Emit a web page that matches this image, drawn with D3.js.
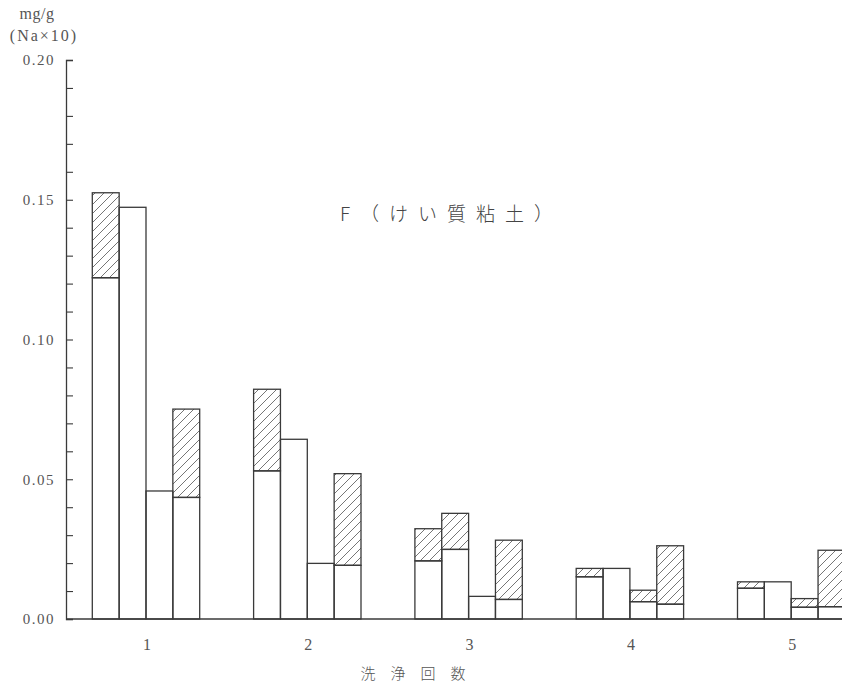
<!DOCTYPE html>
<html>
<head>
<meta charset="utf-8">
<script src="https://cdn.jsdelivr.net/npm/d3@7"></script>
<style>
  html, body { margin: 0; padding: 0; background: #fff; }
  svg { display: block; }
</style>
</head>
<body>
<svg id="chart" width="842" height="689"></svg>
<script>
// Washing rounds (x categories)
const rounds = ["1", "2", "3", "4", "5"];
// Four bars per round
const barKeys = ["a", "b", "c", "d"];

// Lower (plain) segment of each bar, mg/g (Na×10)
const baseA = [0.1221, 0.0530, 0.0208, 0.0151, 0.0110];
const baseB = [0.1473, 0.0643, 0.0249, 0.0181, 0.0133];
const baseC = [0.0458, 0.0199, 0.0081, 0.0062, 0.0042];
const baseD = [0.0435, 0.0192, 0.0070, 0.0053, 0.0044];

// Bar totals (top of the hatched segment)
const totalA = [0.1525, 0.0822, 0.0323, 0.0181, 0.0133];
const totalB = [0.1473, 0.0643, 0.0378, 0.0181, 0.0133];
const totalC = [0.0458, 0.0199, 0.0081, 0.0103, 0.0073];
const totalD = [0.0751, 0.0520, 0.0282, 0.0262, 0.0246];

// Y axis ticks
const yTicks = d3.range(0, 21).map(i => i / 100);
const yLabels = ["0.00", "0.05", "0.10", "0.15", "0.20"];

const title = "F（けい質粘土）";
const xTitle = "洗　浄　回　数";
const unitLines = ["mg/g", "(Na×10)"];

const bases = { a: baseA, b: baseB, c: baseC, d: baseD };
const totals = { a: totalA, b: totalB, c: totalC, d: totalD };

const svg = d3.select("#chart");
const ink = "#3a3a3a";

const defs = svg.append("defs");
const pat = defs.append("pattern")
  .attr("id", "hatch")
  .attr("patternUnits", "userSpaceOnUse")
  .attr("width", 9).attr("height", 9);
pat.append("rect").attr("width", 9).attr("height", 9).attr("fill", "#fff");
pat.append("path")
  .attr("d", "M-1,1 L1,-1 M0,9 L9,0 M8,10 L10,8")
  .attr("stroke", "#666").attr("stroke-width", 0.9);

const x = d3.scalePoint().domain(rounds).range([146, 791.2]);
const xi = d3.scaleBand().domain(barKeys).range([-53.7, 53.7]).padding(0);
const y = d3.scaleLinear().domain([0, 0.2]).range([619, 60]);

const rows = [];
rounds.forEach((r, i) => {
  barKeys.forEach(k => {
    rows.push({ round: r, key: k, base: bases[k][i], total: totals[k][i] });
  });
});

const g = svg.append("g");

// Hatched upper segments
g.selectAll("rect.upper")
  .data(rows.filter(d => d.total > d.base))
  .join("rect")
  .attr("class", "upper")
  .attr("x", d => x(d.round) + xi(d.key))
  .attr("width", xi.bandwidth())
  .attr("y", d => y(d.total))
  .attr("height", d => y(d.base) - y(d.total))
  .attr("fill", "url(#hatch)")
  .attr("stroke", ink).attr("stroke-width", 1.3);

// Plain lower segments
g.selectAll("rect.lower")
  .data(rows)
  .join("rect")
  .attr("class", "lower")
  .attr("x", d => x(d.round) + xi(d.key))
  .attr("width", xi.bandwidth())
  .attr("y", d => y(d.base))
  .attr("height", d => y(0) - y(d.base))
  .attr("fill", "none")
  .attr("stroke", ink).attr("stroke-width", 1.3);

// Y axis with inward ticks
const yAxis = d3.axisLeft(y)
  .tickValues(yTicks)
  .tickSize(-7)
  .tickPadding(11)
  .tickFormat(d => {
    const n = Math.round(d * 100);
    return n % 5 === 0 ? yLabels[n / 5] : "";
  });

const ya = svg.append("g").attr("transform", "translate(66,0)").call(yAxis);
ya.select(".domain").attr("stroke", ink).attr("stroke-width", 1.3);
ya.selectAll(".tick line").attr("stroke", ink).attr("stroke-width", 1.1);
ya.selectAll(".tick text")
  .attr("font-family", "Liberation Serif, serif")
  .attr("font-size", 15)
  .attr("fill", "#555")
  .attr("letter-spacing", 1.5);

// X axis baseline and round labels
svg.append("line")
  .attr("x1", 66).attr("x2", 842)
  .attr("y1", y(0)).attr("y2", y(0))
  .attr("stroke", ink).attr("stroke-width", 1.3);

svg.append("g").selectAll("text")
  .data(rounds)
  .join("text")
  .attr("x", d => x(d) + 1)
  .attr("y", 650)
  .attr("text-anchor", "middle")
  .attr("font-family", "Liberation Serif, serif")
  .attr("font-size", 16)
  .attr("fill", "#555")
  .text(d => d);

// Axis titles
svg.append("text")
  .attr("x", 413).attr("y", 679)
  .attr("text-anchor", "middle")
  .attr("font-family", "Noto Sans CJK JP, sans-serif")
  .attr("font-weight", 300)
  .attr("font-size", 15)
  .attr("fill", "#555")
  .text(xTitle);

svg.append("g").selectAll("text")
  .data(unitLines)
  .join("text")
  .attr("x", (d, i) => i === 0 ? 37 : 44)
  .attr("y", (d, i) => 19 + i * 22)
  .attr("text-anchor", "middle")
  .attr("font-family", "Liberation Serif, serif")
  .attr("font-size", 16)
  .attr("letter-spacing", (d, i) => i === 0 ? 0.5 : 2)
  .attr("fill", "#555")
  .text(d => d);

// Chart title
svg.append("text")
  .attr("x", 340).attr("y", 221)
  .attr("font-family", "Noto Sans CJK JP, sans-serif")
  .attr("font-weight", 300)
  .attr("font-size", 19)
  .attr("letter-spacing", 10)
  .attr("fill", "#444")
  .text(title);
</script>
</body>
</html>
